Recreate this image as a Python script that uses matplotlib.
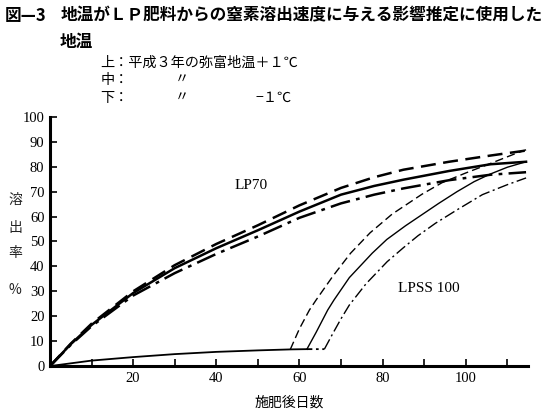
import matplotlib.pyplot as plt
import numpy as np

plt.rcParams['font.family'] = ['Liberation Serif', 'Noto Sans CJK JP']

# =========================
# DATA
# =========================
lp70_days = [0, 5, 10, 20, 30, 40, 50, 60, 70, 78, 85, 96, 106, 114.5]
lp70_upper = [0, 9.0, 17.0, 30.0, 40.5, 49.0, 56.5, 64.5, 71.5, 75.8, 78.8, 82.0, 84.5, 86.5]
lp70_mid = [0, 8.8, 16.5, 29.3, 39.3, 47.3, 54.5, 62.0, 68.8, 72.3, 74.8, 78.3, 81.0, 82.0]
lp70_low = [0, 8.5, 16.0, 28.3, 37.3, 45.0, 52.0, 59.5, 65.3, 68.8, 71.3, 74.6, 76.8, 77.8]

# LPSS100: shared lag phase, then release
base_days = [0, 10, 20, 30, 40, 50, 58, 62, 66]
base_vals = [0, 2.2, 3.6, 4.8, 5.7, 6.3, 6.7, 6.8, 6.8]

lpss_upper_days = [60, 62.4, 64, 68, 72.3, 77, 82.3, 89.5, 94.3, 100, 105, 112, 114.5]
lpss_upper_vals = [15.0, 22.5, 26.5, 36.0, 45.3, 53.5, 61.0, 69.0, 73.6, 77.5, 80.7, 85.3, 86.8]
lpss_mid_days = [64, 66.8, 68.3, 72, 77.5, 81, 85.5, 93.5, 97.9, 102, 105.8, 110, 114.5]
lpss_mid_vals = [13.5, 22.5, 26.5, 35.5, 45.3, 50.8, 56.3, 65.3, 70.0, 74.0, 77.0, 79.8, 82.0]
lpss_low_days = [68, 70, 72, 76, 81.1, 85, 88.5, 92.7, 97.9, 100.2, 104, 110, 114.5]
lpss_low_vals = [13.0, 19.0, 24.5, 33.0, 41.9, 47.5, 52.3, 57.3, 62.7, 65.0, 68.8, 72.8, 75.5]

lag_end = {"upper": 57.8, "mid": 61.8, "low": 66.0}

x_ticks = list(range(10, 120, 10))
x_labels = ["", "20", "", "40", "", "60", "", "80", "", "100", ""]
y_ticks = list(range(0, 110, 10))


def lag_part(start, end):
    d = [start] + [x for x in base_days if start < x < end] + [end]
    return d, list(np.interp(d, base_days, base_vals))


fig = plt.figure(figsize=(5.49, 4.16), dpi=100)
ax = fig.add_axes([0.091, 0.120, 0.871, 0.599])

dashed = (0, (6, 3))
dashdot = (0, (8, 2.5, 1.5, 2.5))

ax.plot(lp70_days, lp70_upper, color="black", lw=1.8, linestyle=dashed)
ax.plot(lp70_days, lp70_mid, color="black", lw=1.8)
ax.plot(lp70_days, lp70_low, color="black", lw=1.8, linestyle=dashdot)

# common lag line up to the solid-curve start
d, v = lag_part(0, lag_end["mid"])
ax.plot(d, v, color="black", lw=1.3)
# dash-dot lag piece
d, v = lag_part(lag_end["mid"], lag_end["low"])
ax.plot(d, v, color="black", lw=1.3, linestyle=(0, (3, 2, 1.5, 2)))

for key, days, vals, ls in [("upper", lpss_upper_days, lpss_upper_vals, dashed),
                            ("mid", lpss_mid_days, lpss_mid_vals, "-"),
                            ("low", lpss_low_days, lpss_low_vals, dashdot)]:
    x0 = lag_end[key]
    y0 = float(np.interp(x0, base_days, base_vals))
    ax.plot([x0] + days, [y0] + vals, color="black", lw=1.0, linestyle=ls)

ax.text(44.5, 72.3, "LP70", fontsize=11, va="center", ha="left")
ax.text(83.7, 31.3, "LPSS 100", fontsize=11, va="center", ha="left")

ax.set_xlim(0, 115)
ax.set_ylim(0, 100)
ax.set_xticks(x_ticks)
ax.set_xticklabels(x_labels, fontsize=10.5)
ax.set_yticks(y_ticks)
ax.set_yticklabels([str(t) for t in y_ticks], fontsize=10.5)
ax.tick_params(direction="in", length=5, width=1.2, pad=4)

for s in ["top", "right"]:
    ax.spines[s].set_visible(False)
for s in ["left", "bottom"]:
    ax.spines[s].set_linewidth(2.2)

ax.set_xlabel("施肥後日数", fontsize=10, family=["Noto Sans CJK JP"], labelpad=8)

# vertical y label
for ch, yy in zip(["溶", "出", "率", "%"], [0.520, 0.452, 0.391, 0.302]):
    fig.text(0.028, yy, ch, fontsize=10, ha="center", va="center",
             family=["Noto Sans CJK JP"], color="#222222")

# title block
fig.text(0.009, 0.962, "図—3", fontsize=12, fontweight="bold",
         family=["Noto Sans CJK JP"], va="center")
fig.text(0.110, 0.962, "地温がＬＰ肥料からの窒素溶出速度に与える影響推定に使用した",
         fontsize=12, fontweight="bold", family=["Noto Sans CJK JP"], va="center")
fig.text(0.108, 0.900, "地温", fontsize=12, fontweight="bold",
         family=["Noto Sans CJK JP"], va="center")
fig.text(0.183, 0.850, "上：平成３年の弥富地温＋１℃", fontsize=10.2,
         family=["Noto Sans CJK JP"], va="center")
fig.text(0.183, 0.807, "中：", fontsize=10.2, family=["Noto Sans CJK JP"], va="center")
fig.text(0.319, 0.807, "〃", fontsize=10.2, family=["Noto Sans CJK JP"], va="center")
fig.text(0.183, 0.764, "下：", fontsize=10.2, family=["Noto Sans CJK JP"], va="center")
fig.text(0.319, 0.764, "〃", fontsize=10.2, family=["Noto Sans CJK JP"], va="center")
fig.text(0.466, 0.764, "−１℃", fontsize=10.2, family=["Noto Sans CJK JP"], va="center")

fig.savefig("out.png", dpi=100)
